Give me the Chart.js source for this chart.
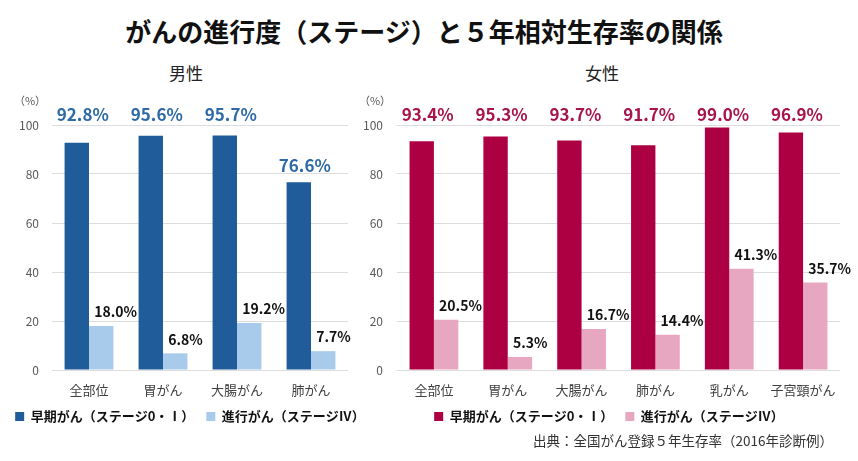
<!DOCTYPE html>
<html lang="ja">
<head>
<meta charset="utf-8">
<title>がんの進行度と５年相対生存率</title>
<script src="https://cdn.jsdelivr.net/npm/chart.js@4.4.1/dist/chart.umd.min.js"></script>
<style>
  body { margin: 0; width: 858px; height: 461px; background: #fff; position: relative; overflow: hidden;
         font-family: "Noto Sans CJK JP", sans-serif; color: #111; }
  #title { position: absolute; top: 18px; left: 0; width: 848px; text-align: center;
           font-size: 26px; line-height: 26px; font-weight: bold; }
  .sub { position: absolute; top: 64px; width: 100px; text-align: center; font-size: 17px; line-height: 17px; color: #222; }
  .box { position: absolute; top: 85px; height: 376px; }
  #source { position: absolute; right: 25px; top: 432px; font-size: 13.5px; line-height: 16px; color: #333; }
</style>
</head>
<body>
<div id="title">がんの進行度（ステージ）と５年相対生存率の関係</div>
<div class="sub" style="left:136px">男性</div>
<div class="sub" style="left:552px">女性</div>
<div class="box" style="left:360px;width:498px"><canvas id="femaleChart"></canvas></div>
<div class="box" style="left:0;width:380px"><canvas id="maleChart"></canvas></div>
<div id="source">出典：全国がん登録５年生存率（2016年診断例）</div>

<script>
// データ
const seriesLabels = ["早期がん（ステージ0・Ⅰ）", "進行がん（ステージⅣ）"];
const maleCategories = ["全部位", "胃がん", "大腸がん", "肺がん"];
const maleEarly = [92.8, 95.6, 95.7, 76.6];
const maleAdvanced = [18.0, 6.8, 19.2, 7.7];
const femaleCategories = ["全部位", "胃がん", "大腸がん", "肺がん", "乳がん", "子宮頸がん"];
const femaleEarly = [93.4, 95.3, 93.7, 91.7, 99.0, 96.9];
const femaleAdvanced = [20.5, 5.3, 16.7, 14.4, 41.3, 35.7];
const yMin = 0;
const yMax = 100;
const yStep = 20;
const yUnit = "（%）";

Chart.defaults.font.family = "'Noto Sans CJK JP', sans-serif";

// 棒の上に値を描くプラグイン
const valueLabels = {
  id: "valueLabels",
  afterDatasetsDraw(chart, args, opts) {
    const { ctx, chartArea } = chart;
    ctx.save();
    ctx.textBaseline = "middle";
    chart.data.datasets.forEach((ds, i) => {
      chart.getDatasetMeta(i).data.forEach((bar, j) => {
        const text = ds.data[j].toFixed(1) + "%";
        if (i === 0) {
          let y = bar.y - 17;
          if (y < chartArea.top + 12) y = chartArea.top - 10; // 100の目盛りと重なるものは上へ
          ctx.font = "bold 17px 'Noto Sans CJK JP'";
          ctx.fillStyle = opts.color;
          ctx.textAlign = "center";
          ctx.fillText(text, bar.x + 6, y);
        } else {
          ctx.font = "bold 14px 'Noto Sans CJK JP'";
          ctx.fillStyle = "#111";
          ctx.textAlign = "left";
          ctx.fillText(text, bar.x - 7, bar.y - 14);
        }
      });
    });
    // 単位
    const yScale = chart.scales.y;
    ctx.font = "11px 'Noto Sans CJK JP'";
    ctx.fillStyle = "#595959";
    ctx.textAlign = "center";
    ctx.fillText(yUnit, yScale.right - 22, chartArea.top - 24);
    ctx.restore();
  }
};

function makeChart(id, categories, early, advanced, colors, pad) {
  return new Chart(document.getElementById(id), {
    type: "bar",
    data: {
      labels: categories,
      datasets: [
        { label: seriesLabels[0], data: early, backgroundColor: colors[0] },
        { label: seriesLabels[1], data: advanced, backgroundColor: colors[1] }
      ]
    },
    options: {
      responsive: true,
      maintainAspectRatio: false,
      animation: false,
      layout: { padding: { top: 40, bottom: 28, left: 0, right: 0 } },
      datasets: { bar: { categoryPercentage: 0.66, barPercentage: 1.0 } },
      scales: {
        x: {
          grid: { display: false, drawTicks: false },
          border: { display: false },
          ticks: { color: "#404040", font: { size: 13 }, padding: 12, maxRotation: 0 },
          afterFit: s => { s.height = 28; }
        },
        y: {
          min: yMin,
          max: yMax,
          grid: { color: "#dddddd", drawTicks: false },
          border: { display: false },
          ticks: { stepSize: yStep, color: "#595959", font: { size: 12 }, padding: pad.tick },
          afterFit: s => { s.width = pad.axis; }
        },
        // 右の余白用（何も描かない軸。凡例の幅はキャンバス幅のまま）
        gapRight: {
          type: "linear",
          position: "right",
          grid: { display: false },
          border: { display: false },
          ticks: { display: false },
          afterFit: s => { s.width = pad.gapRight; }
        }
      },
      plugins: {
        legend: {
          position: "bottom",
          labels: { boxWidth: 9, boxHeight: 9, padding: 12, color: "#111", font: { size: 13, weight: "bold" } }
        },
        tooltip: { enabled: false },
        valueLabels: { color: colors[2] }
      }
    },
    plugins: [valueLabels]
  });
}

makeChart("maleChart", maleCategories, maleEarly, maleAdvanced,
  ["#1F5C99", "#A9CBEB", "#2E6AA6"],
  { axis: 52, tick: 13, gapRight: 32 });
makeChart("femaleChart", femaleCategories, femaleEarly, femaleAdvanced,
  ["#AD0042", "#E8A7C0", "#A8144B"],
  { axis: 37, tick: 14, gapRight: 18 });
</script>
</body>
</html>
